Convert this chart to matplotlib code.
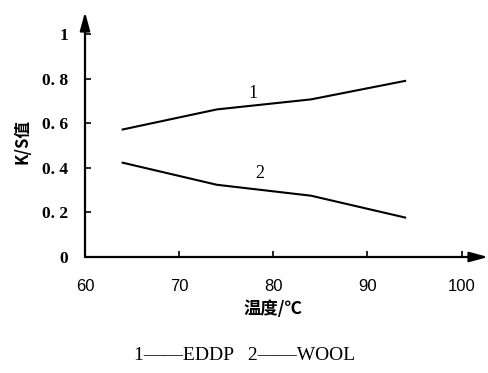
import matplotlib
matplotlib.use("Agg")
import matplotlib.pyplot as plt

temps = [64, 74, 84, 94]
eddp = [0.572, 0.662, 0.707, 0.790]
wool = [0.423, 0.324, 0.275, 0.177]
xticks = [60, 70, 80, 90, 100]
yticks = [0, 0.2, 0.4, 0.6, 0.8, 1]
ytick_labels = ["0", "0. 2", "0. 4", "0. 6", "0. 8", "1"]

fig = plt.figure(figsize=(4.89, 3.73), dpi=100)
ax = fig.add_axes([85/489, 1-257/373, (488-85)/489, (257-12)/373])
ax.plot(temps, eddp, color="black", lw=1.5)
ax.plot(temps, wool, color="black", lw=1.5)
ax.set_xlim(60, 102.8)
ax.set_ylim(0, 1.099)
for s in ax.spines.values():
    s.set_visible(False)
arrow = dict(arrowstyle="-|>,head_length=1.1,head_width=0.3", lw=1.6, color="black",
             shrinkA=0, shrinkB=0)
ax.annotate("", xy=(1, 0), xytext=(0, 0), xycoords="axes fraction", arrowprops=arrow,
            annotation_clip=False)
ax.annotate("", xy=(0, 1), xytext=(0, 0), xycoords="axes fraction", arrowprops=arrow,
            annotation_clip=False)
ax.set_xticks(xticks)
ax.set_xticklabels([str(t) for t in xticks], fontfamily="Liberation Sans", fontsize=12)
ax.set_yticks(yticks)
ax.set_yticklabels(ytick_labels, fontfamily="Liberation Serif", fontsize=12.5, fontweight="bold")
ax.tick_params(axis="both", direction="in", length=4, width=1.2)
ax.tick_params(axis="x", pad=16)
ax.tick_params(axis="y", pad=12)
ax.text(77.8, 0.735, "1", fontfamily="Liberation Serif", fontsize=13, ha="center", va="center")
ax.text(78.6, 0.374, "2", fontfamily="Liberation Serif", fontsize=13, ha="center", va="center")
fig.text(273/489, 1-309/373, "温度/℃", fontfamily=["Noto Sans CJK SC"], fontsize=12.5,
         fontweight="bold", ha="center", va="center")
fig.text(22/489, 1-141/373, "K/S值", fontfamily=["Noto Sans CJK SC"], fontsize=12,
         fontweight="bold", rotation=90, ha="center", va="center")
fig.text(245/489, 1-355/373, "1——EDDP   2——WOOL", fontfamily=["Liberation Serif"],
         fontsize=14, ha="center", va="center")
fig.savefig("out.png", dpi=100)
